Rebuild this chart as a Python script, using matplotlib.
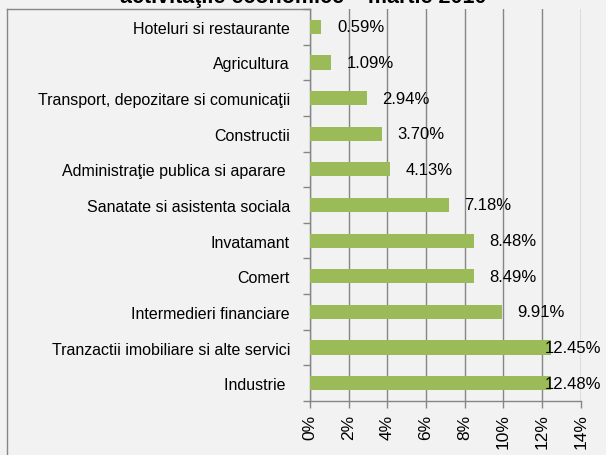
import matplotlib
matplotlib.use("Agg")
import matplotlib.pyplot as plt
from matplotlib.lines import Line2D

plt.rcParams['font.family'] = ['Liberation Sans', 'DejaVu Sans']

categories = [
    "Hoteluri si restaurante",
    "Agricultura",
    "Transport, depozitare si comunicaţii",
    "Constructii",
    "Administraţie publica si aparare ",
    "Sanatate si asistenta sociala",
    "Invatamant",
    "Comert",
    "Intermedieri financiare",
    "Tranzactii imobiliare si alte servici",
    "Industrie ",
]
values = [0.59, 1.09, 2.94, 3.70, 4.13, 7.18, 8.48, 8.49, 9.91, 12.45, 12.48]
value_labels = ["0.59%", "1.09%", "2.94%", "3.70%", "4.13%", "7.18%",
                "8.48%", "8.49%", "9.91%", "12.45%", "12.48%"]
xticks = [0, 2, 4, 6, 8, 10, 12, 14]
xtick_labels = ["0%", "2%", "4%", "6%", "8%", "10%", "12%", "14%"]
title = "activitaţile economice – martie 2010"

W, H = 606, 456
bg = "#f2f2f2"
grid_c = "#868686"
bar_c = "#9bbb59"

fig = plt.figure(figsize=(W / 100, H / 100), dpi=100, facecolor=bg)
ax = fig.add_axes([310 / W, 1 - 402 / H, (580.7 - 310) / W, (402 - 10) / H])
ax.set_facecolor(bg)

n = len(categories)
ypos = list(range(n))
ax.barh(ypos, values, height=0.4, color=bar_c, zorder=3)
ax.set_xlim(0, 14)
ax.set_ylim(n - 0.5, -0.5)

for y, v, lab in zip(ypos, values, value_labels):
    ax.text(min(v + 0.8, 12.14), y, lab, va='center', ha='left',
            fontsize=12, color='black', zorder=4)

ax.set_yticks(ypos)
ax.set_yticklabels(categories, fontsize=11.5)
ax.tick_params(axis='y', which='major', length=0, pad=14.4)
ax.set_yticks([i - 0.5 for i in range(n + 1)], minor=True)
ax.tick_params(axis='y', which='minor', length=5, width=1, color=grid_c, direction='out')

ax.set_xticks(xticks)
ax.set_xticklabels(xtick_labels, rotation=90, fontsize=12.5)
ax.tick_params(axis='x', length=5, width=1, color=grid_c, direction='out', pad=4)

ax.grid(axis='x', color=grid_c, linewidth=1.0, zorder=0)
ax.set_axisbelow(True)
for s in ['top', 'right']:
    ax.spines[s].set_visible(False)
for s in ['left', 'bottom']:
    ax.spines[s].set_color(grid_c)
    ax.spines[s].set_linewidth(1.0)

# outer chart border (left and top portions visible)
fig.add_artist(Line2D([7 / W, 7 / W], [0, 1 - 10 / H], transform=fig.transFigure,
                      color=grid_c, linewidth=1.0))
fig.add_artist(Line2D([7 / W, 310 / W], [1 - 10 / H, 1 - 10 / H], transform=fig.transFigure,
                      color=grid_c, linewidth=1.0))

fig.text(0.5, 1 - 3.5 / H, title, ha='center', va='baseline', fontsize=15.5,
         fontweight='bold', color='black')

fig.savefig("out.png", dpi=100, facecolor=bg)
